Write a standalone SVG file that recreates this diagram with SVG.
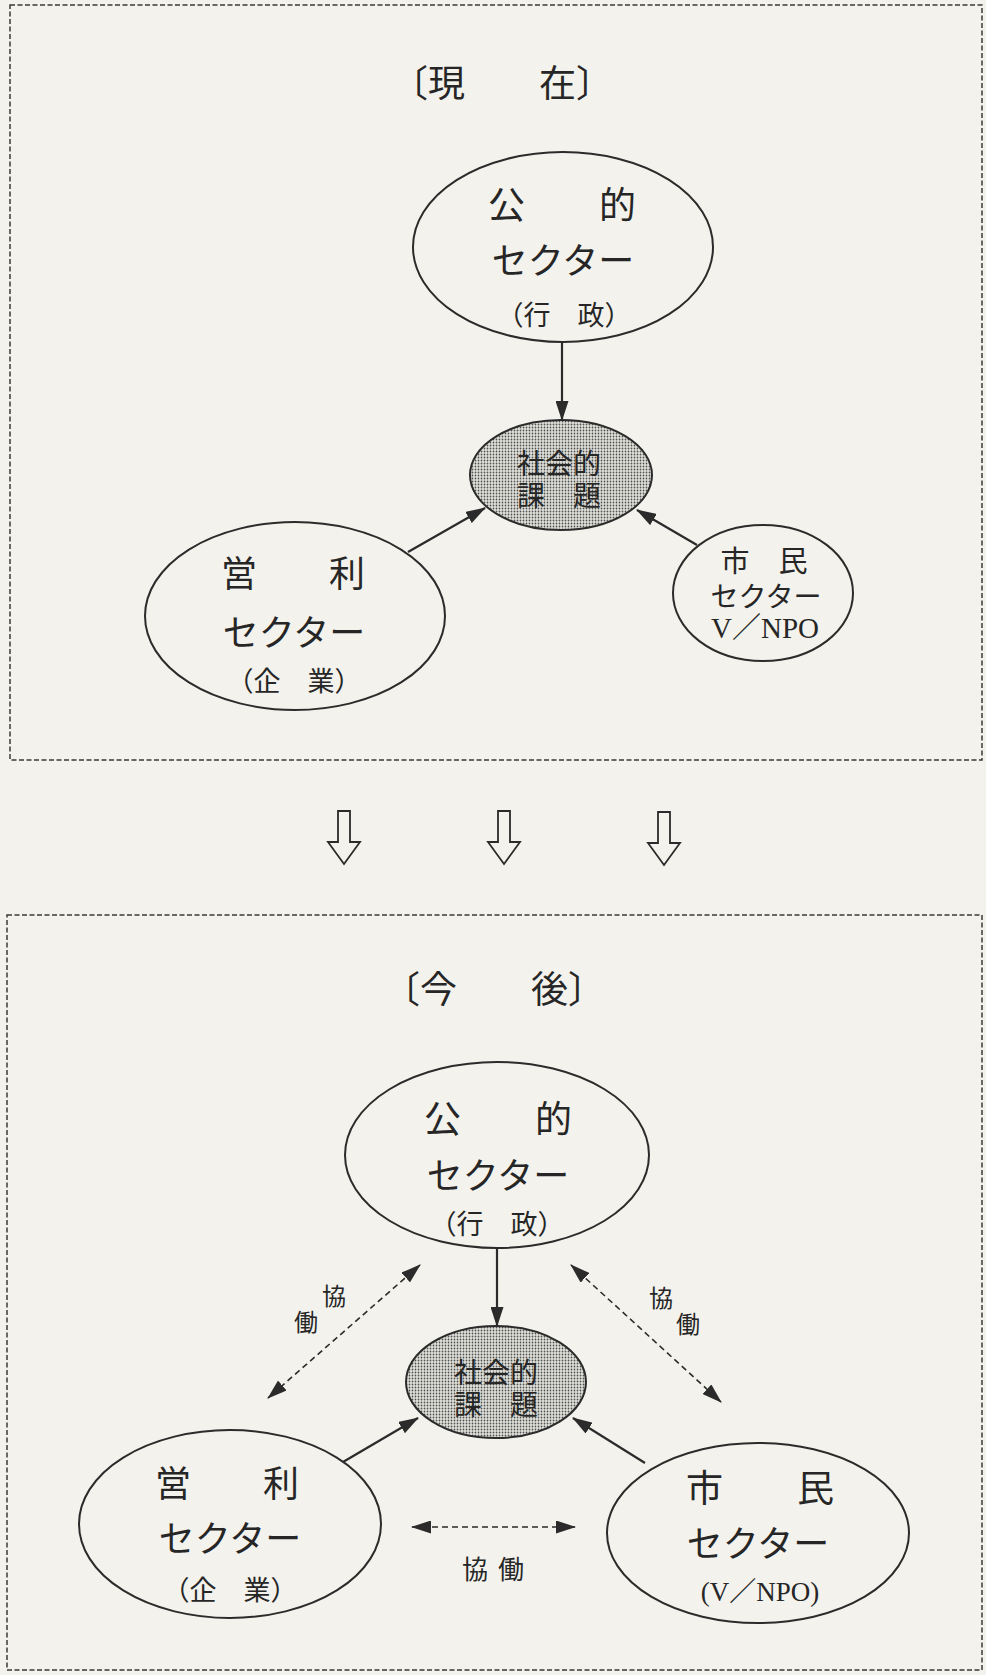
<svg xmlns="http://www.w3.org/2000/svg" width="986" height="1675" viewBox="0 0 986 1675">
<defs>
<style>
.bg{fill:#f3f2ec}
.frame{fill:none;stroke:#3a3a3a;stroke-width:1.5;stroke-dasharray:5 2.5}
.node{fill:none;stroke:#2b2b2b;stroke-width:2}
.issue{fill:url(#dots);stroke:#2b2b2b;stroke-width:2}
.t{font-family:'Noto Sans CJK JP','Noto Sans CJK SC',sans-serif;fill:#262626;text-anchor:middle;dominant-baseline:central}
.lat{font-family:'Liberation Serif','Noto Sans CJK JP',serif}
.solid{stroke:#2b2b2b;stroke-width:2.2;fill:none;marker-end:url(#ah)}
.dash{stroke:#2b2b2b;stroke-width:1.6;fill:none;stroke-dasharray:6 4;marker-start:url(#ah);marker-end:url(#ah)}
.big{fill:#f3f2ec;stroke:#2b2b2b;stroke-width:1.8}
</style>
<marker id="ah" viewBox="0 0 20 13" refX="19" refY="6.5" markerWidth="20" markerHeight="13" markerUnits="userSpaceOnUse" orient="auto-start-reverse"><path d="M0,0 L20,6.5 L0,13 z" fill="#2b2b2b"/></marker>
<pattern id="dots" width="3" height="3" patternUnits="userSpaceOnUse"><rect width="3" height="3" fill="#e2e2dc"/><circle cx="1.5" cy="1.5" r="0.9" fill="#505050"/></pattern>
</defs>
<rect class="bg" x="0" y="0" width="986" height="1675"/>

<g id="frame-current">
<rect class="frame" x="10" y="5" width="972" height="755"/>
<text class="t" x="502" y="81" font-size="37">〔現　　在〕</text>
</g>

<g id="frame-future">
<rect class="frame" x="7" y="915" width="975" height="755"/>
<text class="t" x="494" y="987" font-size="37">〔今　　後〕</text>
</g>

<g id="transition-arrows">
<polygon class="big" points="338,811 350,811 350,842 360,842 344,864 328,842 338,842"/>
<polygon class="big" points="498,811 510,811 510,842 520,842 504,864 488,842 498,842"/>
<polygon class="big" points="658,812 670,812 670,843 680,843 664,865 648,843 658,843"/>
</g>

<g id="connectors">
<line class="solid" x1="562" y1="343" x2="562" y2="420"/>
<line class="solid" x1="408" y1="552" x2="485" y2="508"/>
<line class="solid" x1="697" y1="545" x2="637" y2="510"/>
<line class="solid" x1="497" y1="1248" x2="497" y2="1326"/>
<line class="solid" x1="343" y1="1462" x2="418" y2="1418"/>
<line class="solid" x1="645" y1="1463" x2="573" y2="1418"/>
<line class="dash" x1="420" y1="1265" x2="268" y2="1398"/>
<line class="dash" x1="571" y1="1265" x2="721" y2="1402"/>
<line class="dash" x1="412" y1="1527" x2="575" y2="1527"/>
<text class="t" font-size="24"><tspan x="334" y="1294">協</tspan><tspan x="306" y="1320">働</tspan></text>
<text class="t" font-size="24"><tspan x="661" y="1296">協</tspan><tspan x="688" y="1322">働</tspan></text>
<text class="t" font-size="26"><tspan x="475" y="1567">協</tspan><tspan x="511" y="1567">働</tspan></text>
</g>

<g id="public-current">
<ellipse class="node" cx="563" cy="247" rx="150" ry="95"/>
<text class="t" x="562" y="203" font-size="37">公　　的</text>
<text class="t" x="563" y="258" font-size="36">セクター</text>
<text class="t" x="564" y="313" font-size="27">（行　政）</text>
</g>

<g id="issue-current">
<ellipse class="issue" cx="561" cy="475" rx="91" ry="55"/>
<text class="t" font-size="28"><tspan x="559" y="462">社会的</tspan><tspan x="559" y="494">課　題</tspan></text>
</g>

<g id="profit-current">
<ellipse class="node" cx="295" cy="616" rx="150" ry="94"/>
<text class="t" x="293" y="571" font-size="36">営　　利</text>
<text class="t" x="294" y="630" font-size="36">セクター</text>
<text class="t" x="294" y="679" font-size="27">（企　業）</text>
</g>

<g id="citizen-current">
<ellipse class="node" cx="763" cy="593" rx="90" ry="68"/>
<text class="t" font-size="29"><tspan x="764" y="559">市　民</tspan><tspan x="766" y="595" font-size="28">セクター</tspan><tspan class="lat" x="765" y="628">V／NPO</tspan></text>
</g>

<g id="public-future">
<ellipse class="node" cx="497" cy="1155" rx="152" ry="93"/>
<text class="t" x="498" y="1117" font-size="37">公　　的</text>
<text class="t" x="498" y="1173" font-size="36">セクター</text>
<text class="t" x="497" y="1222" font-size="27">（行　政）</text>
</g>

<g id="issue-future">
<ellipse class="issue" cx="496" cy="1382" rx="90" ry="56"/>
<text class="t" font-size="28"><tspan x="496" y="1371">社会的</tspan><tspan x="496" y="1403">課　題</tspan></text>
</g>

<g id="profit-future">
<ellipse class="node" cx="230" cy="1524" rx="151" ry="94"/>
<text class="t" x="227" y="1481" font-size="36">営　　利</text>
<text class="t" x="230" y="1536" font-size="36">セクター</text>
<text class="t" x="230" y="1588" font-size="27">（企　業）</text>
</g>

<g id="citizen-future">
<ellipse class="node" cx="758" cy="1533" rx="151" ry="90"/>
<text class="t" x="760" y="1486" font-size="37">市　　民</text>
<text class="t" x="758" y="1541" font-size="36">セクター</text>
<text class="t lat" x="760" y="1592" font-size="27">(V／NPO)</text>
</g>
</svg>
